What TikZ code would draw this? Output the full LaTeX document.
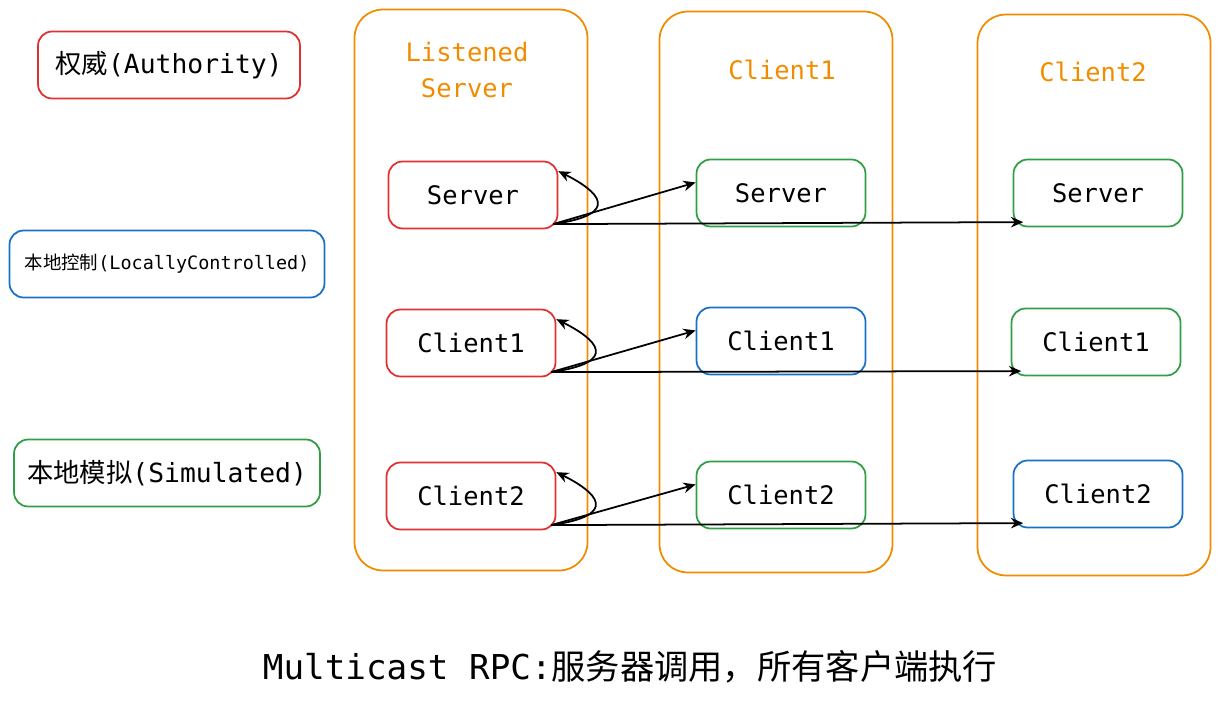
\documentclass[tikz,border=0pt]{standalone}
\usepackage{fontspec}
\setmainfont{DejaVu Sans Mono}
\newfontfamily\cjk{Noto Sans CJK SC}
\usetikzlibrary{positioning, arrows.meta}
\definecolor{authred}{HTML}{E03131}
\definecolor{locblue}{HTML}{1971C2}
\definecolor{simgreen}{HTML}{2F9E44}
\definecolor{colorange}{HTML}{F08C00}

\begin{document}
\begin{tikzpicture}[
    x=0.02cm, y=-0.02cm,
    line width=1pt,
    >={Stealth[length=7pt,width=6pt]}
]
    % Styles for boxes
    \tikzstyle{role} = [draw, rounded corners=8pt, minimum width=3.38cm, minimum height=1.34cm, font=\fontsize{14.5}{17}\selectfont]
    \tikzstyle{legend} = [draw, rounded corners=8pt, minimum height=1.34cm, font=\fontsize{15}{18}\selectfont]
    \tikzstyle{column} = [draw=colorange, rounded corners=16pt, minimum width=4.66cm, minimum height=11.22cm]
    \tikzstyle{title} = [text=colorange, font=\fontsize{14.5}{20}\selectfont, align=center]

    % Canvas
    \useasboundingbox (0,0) rectangle (1220,703);

    % Legend
    \node [legend, draw=authred, minimum width=5.24cm] (Auth) at (169,65) {{\cjk 权威}(Authority)};
    \node [legend, draw=locblue, minimum width=6.3cm, font=\fontsize{10.5}{12}\selectfont] (Local) at (167,264) {{\cjk 本地控制}(LocallyControlled)};
    \node [legend, draw=simgreen, minimum width=6.12cm] (Sim) at (167,473) {{\cjk 本地模拟}(Simulated)};

    % Columns
    \node [column] (ColS) at (471,290) {};
    \node [column] (ColA) at (776,292) {};
    \node [column] (ColB) at (1094,295) {};
    \node [title] at (467,70) {Listened\\Server};
    \node [title] at (782,70) {Client1};
    \node [title] at (1093,72) {Client2};

    % Listened server roles
    \node [role, draw=authred] (SrvS) at (473,195) {Server};
    \node [role, draw=authred] (SrvA) at (471,343) {Client1};
    \node [role, draw=authred] (SrvB) at (471,496) {Client2};

    % Client1 roles
    \node [role, draw=simgreen] (AS) at (781,193) {Server};
    \node [role, draw=locblue] (AA) at (781,341) {Client1};
    \node [role, draw=simgreen] (AB) at (781,495) {Client2};

    % Client2 roles
    \node [role, draw=simgreen] (BS) at (1098,193) {Server};
    \node [role, draw=simgreen] (BA) at (1096,342) {Client1};
    \node [role, draw=locblue] (BB) at (1098,494) {Client2};

    % Multicast calls
    \foreach \src/\near/\far in {SrvS/AS/BS, SrvA/AA/BA, SrvB/AB/BB} {
        \coordinate (from) at ([xshift=-3pt, yshift=3pt]\src.south east);
        \draw [->] (from) .. controls +(70,-10) and +(40,20) .. ([yshift=-6pt]\src.north east);
        \draw [->] (from) -- ([yshift=6pt]\near.west);
        \draw [->] (from) -- ([yshift=3pt, xshift=6pt]\far.south west);
    }

    % Caption
    \node [font=\fontsize{19.5}{24}\selectfont] (Caption) at (630,667) {Multicast RPC:{\cjk 服务器调用，所有客户端执行}};
\end{tikzpicture}
\end{document}
